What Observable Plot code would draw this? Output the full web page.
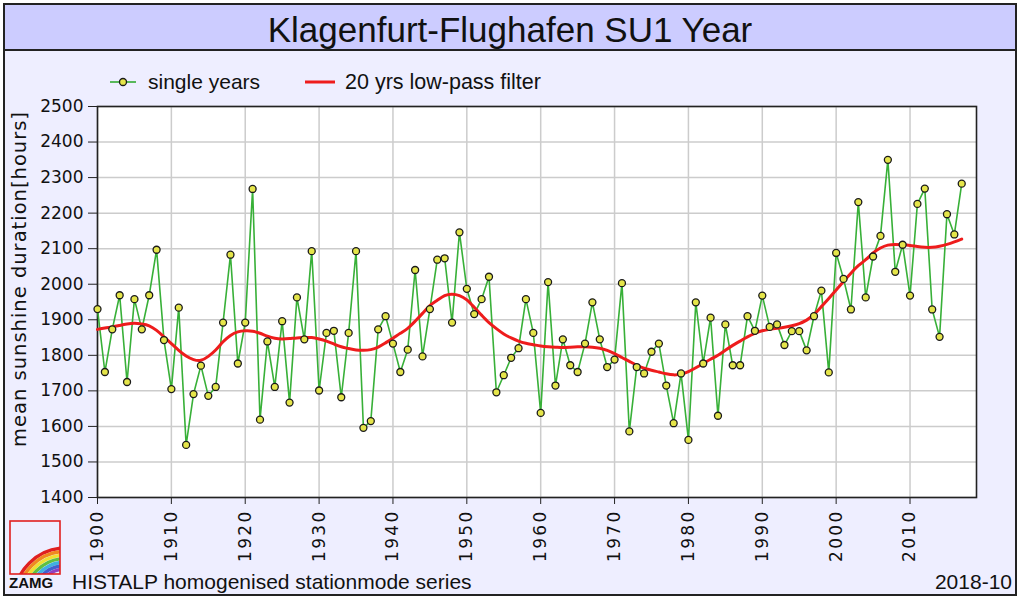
<!DOCTYPE html>
<html>
<head>
<meta charset="utf-8">
<script src="https://cdn.jsdelivr.net/npm/d3@7"></script>
<script src="https://cdn.jsdelivr.net/npm/@observablehq/plot@0.6"></script>
<style>
  html, body { margin: 0; padding: 0; background: #ffffff; }
  #wrap { position: relative; width: 1023px; height: 603px; overflow: hidden; }
  #deco { position: absolute; left: 0; top: 0; }
  #chart { position: absolute; left: 0; top: 0; }
  #chart g[aria-label="x-axis tick label"] text { letter-spacing: 2.3px; }
</style>
</head>
<body>
<div id="wrap">
<svg id="deco" width="1023" height="603" xmlns="http://www.w3.org/2000/svg">
  <rect x="4" y="4" width="1012" height="591" fill="#eeeeff" stroke="#222" stroke-width="2"/>
  <rect x="5" y="5" width="1010" height="45" fill="#ccccff"/>
  <line x1="4" y1="50" x2="1016" y2="50" stroke="#222" stroke-width="2"/>
  <text id="title" x="510" y="42" text-anchor="middle" font-family="Liberation Sans, Arial, sans-serif" font-size="35" fill="#111"></text>
  <!-- legend -->
  <line x1="110" y1="82" x2="136" y2="82" stroke="#33aa33" stroke-width="1.6"/>
  <circle cx="123" cy="82" r="3.5" fill="#e5e54a" stroke="#1a1a1a" stroke-width="1.3"/>
  <text id="leg1" x="148" y="89" font-family="Liberation Sans, Arial, sans-serif" font-size="21" fill="#111"></text>
  <line x1="305" y1="82" x2="335" y2="82" stroke="#ee1c1c" stroke-width="3"/>
  <text id="leg2" x="345" y="89" font-family="Liberation Sans, Arial, sans-serif" font-size="21.5" fill="#111"></text>
  <!-- y label -->
  <text id="ylab" transform="translate(26,279) rotate(-90)" text-anchor="middle" font-family="DejaVu Sans, sans-serif" font-size="19.5" letter-spacing="1.0" fill="#111"></text>
  <!-- logo -->
  <g>
    <clipPath id="lclip"><rect x="10" y="521" width="50" height="53"/></clipPath>
    <g clip-path="url(#lclip)" fill="none" stroke-width="3.4">
      <circle cx="66" cy="600" r="52" stroke="#e02020"/>
      <circle cx="66" cy="600" r="48.5" stroke="#f08a20"/>
      <circle cx="66" cy="600" r="45" stroke="#f0e030"/>
      <circle cx="66" cy="600" r="41.5" stroke="#60c040"/>
      <circle cx="66" cy="600" r="38" stroke="#40b0e0"/>
      <circle cx="66" cy="600" r="34.5" stroke="#4060d0"/>
      <circle cx="66" cy="600" r="31" stroke="#9040c0"/>
    </g>
    <rect x="10" y="521" width="50" height="53" fill="none" stroke="#e02020" stroke-width="1.6"/>
  </g>
  <text id="zamg" x="9" y="588" font-family="Liberation Sans, Arial, sans-serif" font-weight="bold" font-size="15" fill="#111"></text>
  <text id="foot" x="72" y="589" font-family="Liberation Sans, Arial, sans-serif" font-size="21" fill="#111"></text>
  <text id="date" x="1012" y="589" text-anchor="end" font-family="Liberation Sans, Arial, sans-serif" font-size="21" fill="#111"></text>
</svg>
</div>
<script>
// ---------------- data ----------------
const chartTitle = "Klagenfurt-Flughafen SU1 Year";
const legendLabels = ["single years", "20 yrs low-pass filter"];
const yAxisLabel = "mean sunshine duration[hours]";
const footerText = "HISTALP homogenised stationmode series";
const logoText = "ZAMG";
const dateText = "2018-10";

const years = [
  1900,1901,1902,1903,1904,1905,1906,1907,1908,1909,
  1910,1911,1912,1913,1914,1915,1916,1917,1918,1919,
  1920,1921,1922,1923,1924,1925,1926,1927,1928,1929,
  1930,1931,1932,1933,1934,1935,1936,1937,1938,1939,
  1940,1941,1942,1943,1944,1945,1946,1947,1948,1949,
  1950,1951,1952,1953,1954,1955,1956,1957,1958,1959,
  1960,1961,1962,1963,1964,1965,1966,1967,1968,1969,
  1970,1971,1972,1973,1974,1975,1976,1977,1978,1979,
  1980,1981,1982,1983,1984,1985,1986,1987,1988,1989,
  1990,1991,1992,1993,1994,1995,1996,1997,1998,1999,
  2000,2001,2002,2003,2004,2005,2006,2007,2008,2009,
  2010,2011,2012,2013,2014,2015,2016,2017
];

const singleYears = [
  1930,1753,1873,1969,1725,1958,1873,1969,2097,1843,
  1705,1934,1548,1691,1771,1686,1711,1892,2083,1777,
  1892,2268,1619,1839,1711,1896,1667,1963,1845,2093,
  1701,1863,1869,1682,1863,2093,1596,1615,1873,1910,
  1833,1753,1816,2040,1797,1930,2069,2073,1892,2146,
  1987,1916,1958,2021,1696,1744,1793,1820,1958,1863,
  1638,2006,1715,1845,1772,1753,1833,1949,1845,1767,
  1788,2003,1586,1767,1749,1810,1833,1715,1609,1749,
  1562,1949,1777,1906,1630,1887,1772,1772,1910,1869,
  1968,1880,1887,1829,1868,1868,1814,1910,1982,1752,
  2088,2015,1929,2231,1963,2078,2136,2350,2035,2111,
  1968,2226,2269,1929,1852,2197,2140,2283
];

const lowPass = [
  1873,1877,1880,1884,1888,1890,1888,1883,1870,1852,
  1833,1814,1798,1788,1786,1797,1815,1838,1856,1866,
  1869,1868,1862,1854,1848,1846,1847,1849,1850,1850,
  1846,1840,1832,1824,1819,1815,1814,1816,1823,1835,
  1848,1862,1876,1896,1918,1940,1955,1968,1972,1968,
  1956,1935,1913,1892,1875,1860,1849,1840,1834,1830,
  1826,1824,1823,1822,1823,1824,1824,1823,1820,1814,
  1805,1794,1783,1772,1764,1758,1753,1748,1745,1747,
  1754,1765,1777,1789,1800,1814,1828,1840,1852,1862,
  1869,1873,1876,1879,1883,1889,1899,1915,1937,1960,
  1984,2008,2031,2052,2069,2088,2102,2110,2112,2111,
  2109,2106,2104,2104,2107,2112,2119,2127
];

const xTicks = [1900,1910,1920,1930,1940,1950,1960,1970,1980,1990,2000,2010];
const yTicks = [1400,1500,1600,1700,1800,1900,2000,2100,2200,2300,2400,2500];
const xDomain = [1900, 2019];
const yDomain = [1400, 2500];

// ---------------- texts ----------------
document.getElementById("title").textContent = chartTitle;
document.getElementById("leg1").textContent = legendLabels[0];
document.getElementById("leg2").textContent = legendLabels[1];
document.getElementById("ylab").textContent = yAxisLabel;
document.getElementById("foot").textContent = footerText;
document.getElementById("zamg").textContent = logoText;
document.getElementById("date").textContent = dateText;

// ---------------- chart ----------------
const single = years.map((y, i) => ({year: y, value: singleYears[i]}));
const filt = years.map((y, i) => ({year: y, value: lowPass[i]}));

const chart = Plot.plot({
  width: 1023,
  height: 603,
  marginLeft: 97,
  marginRight: 47,
  marginTop: 106,
  marginBottom: 106,
  style: {background: "transparent", fontFamily: "DejaVu Sans, sans-serif", fontSize: "17px", color: "#111", overflow: "visible"},
  x: {domain: xDomain},
  y: {domain: yDomain},
  marks: [
    Plot.frame({fill: "white"}),
    Plot.gridX(xTicks, {stroke: "#cccccc", strokeOpacity: 1, strokeWidth: 1.5}),
    Plot.gridY(yTicks, {stroke: "#cccccc", strokeOpacity: 1, strokeWidth: 1.5}),
    Plot.frame({stroke: "#222", strokeWidth: 1.6}),
    Plot.axisY({ticks: yTicks, tickSize: 9, tickPadding: 5, tickFormat: d => String(d), label: null, fontSize: 17, stroke: "#222"}),
    Plot.axisX({ticks: xTicks, tickSize: 7, tickPadding: 5, tickRotate: -90, tickFormat: d => String(d), label: null, fontSize: 17, stroke: "#222"}),
    Plot.line(single, {x: "year", y: "value", stroke: "#38b038", strokeWidth: 1.6}),
    Plot.line(filt, {x: "year", y: "value", stroke: "#ee1c1c", strokeWidth: 3, curve: "natural"}),
    Plot.dot(single, {x: "year", y: "value", r: 3.5, fill: "#e5e54a", stroke: "#1a1a1a", strokeWidth: 1.3})
  ]
});
chart.id = "chart";
document.getElementById("wrap").appendChild(chart);
</script>
</body>
</html>
